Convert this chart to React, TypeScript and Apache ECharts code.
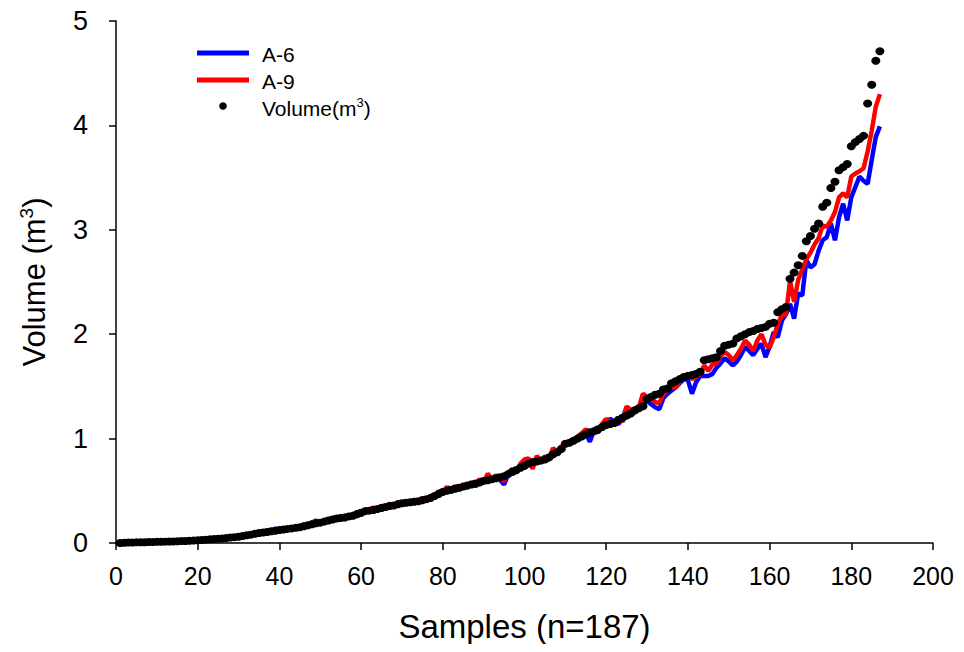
import React, { useEffect, useRef } from "react";
import * as echarts from "echarts";

const volume: number[] = [
  0.000, 0.002, 0.004, 0.005, 0.006, 0.007, 0.008, 0.009, 0.010, 0.011,
  0.012, 0.013, 0.014, 0.015, 0.016, 0.018, 0.019, 0.021, 0.023, 0.026,
  0.029, 0.032, 0.035, 0.038, 0.041, 0.044, 0.048, 0.052, 0.056, 0.060,
  0.067, 0.074, 0.080, 0.088, 0.095, 0.100, 0.106, 0.112, 0.118, 0.125,
  0.130, 0.135, 0.140, 0.145, 0.150, 0.160, 0.170, 0.180, 0.190, 0.195,
  0.205, 0.215, 0.225, 0.235, 0.240, 0.245, 0.255, 0.260, 0.275, 0.290,
  0.305, 0.310, 0.315, 0.325, 0.335, 0.345, 0.355, 0.360, 0.370, 0.380,
  0.385, 0.390, 0.395, 0.400, 0.410, 0.420, 0.430, 0.450, 0.470, 0.490,
  0.500, 0.510, 0.520, 0.530, 0.540, 0.550, 0.560, 0.570, 0.580, 0.595,
  0.600, 0.610, 0.620, 0.630, 0.640, 0.660, 0.680, 0.700, 0.720, 0.740,
  0.760, 0.775, 0.780, 0.790, 0.800, 0.820, 0.850, 0.870, 0.900, 0.950,
  0.960, 0.980, 1.000, 1.020, 1.040, 1.060, 1.070, 1.090, 1.110, 1.130,
  1.140, 1.150, 1.180, 1.200, 1.220, 1.240, 1.270, 1.290, 1.310, 1.380,
  1.400, 1.420, 1.430, 1.470, 1.480, 1.530, 1.550, 1.570, 1.590, 1.600,
  1.610, 1.620, 1.640, 1.750, 1.760, 1.770, 1.780, 1.840, 1.890, 1.900,
  1.910, 1.960, 1.980, 2.000, 2.020, 2.030, 2.050, 2.060, 2.070, 2.100,
  2.110, 2.210, 2.240, 2.260, 2.530, 2.590, 2.660, 2.750, 2.890, 2.940,
  3.010, 3.060, 3.220, 3.260, 3.400, 3.460, 3.570, 3.600, 3.630, 3.800,
  3.840, 3.870, 3.900, 4.210, 4.390, 4.620, 4.710,
];

const a6: number[] = [
  0.000, 0.002, 0.004, 0.005, 0.006, 0.007, 0.008, 0.009, 0.010, 0.011,
  0.012, 0.013, 0.014, 0.015, 0.016, 0.018, 0.019, 0.021, 0.023, 0.026,
  0.030, 0.031, 0.036, 0.037, 0.042, 0.043, 0.049, 0.050, 0.057, 0.060,
  0.075, 0.070, 0.092, 0.084, 0.110, 0.094, 0.120, 0.105, 0.138, 0.118,
  0.140, 0.128, 0.150, 0.138, 0.160, 0.175, 0.165, 0.195, 0.215, 0.185,
  0.220, 0.205, 0.240, 0.228, 0.255, 0.236, 0.272, 0.250, 0.300, 0.278,
  0.325, 0.298, 0.332, 0.315, 0.352, 0.330, 0.375, 0.345, 0.392, 0.365,
  0.400, 0.375, 0.410, 0.388, 0.428, 0.405, 0.450, 0.440, 0.492, 0.470,
  0.525, 0.490, 0.540, 0.512, 0.555, 0.530, 0.578, 0.545, 0.600, 0.580,
  0.630, 0.595, 0.640, 0.605, 0.560, 0.655, 0.700, 0.670, 0.745, 0.715,
  0.785, 0.735, 0.810, 0.770, 0.820, 0.795, 0.890, 0.855, 0.915, 0.940,
  0.960, 0.965, 1.010, 1.005, 1.060, 0.970, 1.080, 1.060, 1.110, 1.150,
  1.190, 1.160, 1.140, 1.200, 1.300, 1.270, 1.285, 1.300, 1.320, 1.360,
  1.330, 1.300, 1.280, 1.390, 1.430, 1.460, 1.490, 1.530, 1.570, 1.560,
  1.430, 1.540, 1.600, 1.600, 1.600, 1.620, 1.680, 1.720, 1.770, 1.740,
  1.700, 1.740, 1.800, 1.880, 1.840, 1.800, 1.860, 1.910, 1.780, 1.880,
  2.020, 1.970, 2.130, 2.190, 2.290, 2.150, 2.390, 2.370, 2.710, 2.640,
  2.670, 2.800, 2.900, 2.930, 3.060, 2.900, 3.120, 3.250, 3.090, 3.310,
  3.410, 3.510, 3.470, 3.440, 3.670, 3.890, 3.990,
];

const a9: number[] = [
  0.000, 0.002, 0.004, 0.005, 0.006, 0.007, 0.008, 0.009, 0.010, 0.011,
  0.012, 0.013, 0.014, 0.015, 0.016, 0.018, 0.019, 0.021, 0.023, 0.026,
  0.029, 0.033, 0.034, 0.039, 0.040, 0.046, 0.047, 0.054, 0.055, 0.062,
  0.062, 0.082, 0.074, 0.098, 0.088, 0.112, 0.100, 0.126, 0.112, 0.142,
  0.122, 0.145, 0.134, 0.156, 0.142, 0.178, 0.162, 0.198, 0.212, 0.180,
  0.200, 0.226, 0.218, 0.250, 0.232, 0.262, 0.245, 0.280, 0.268, 0.272,
  0.300, 0.325, 0.340, 0.310, 0.360, 0.325, 0.380, 0.340, 0.395, 0.360,
  0.405, 0.372, 0.418, 0.385, 0.435, 0.400, 0.455, 0.436, 0.498, 0.465,
  0.540, 0.485, 0.548, 0.508, 0.562, 0.528, 0.585, 0.540, 0.612, 0.575,
  0.665, 0.605, 0.650, 0.615, 0.595, 0.670, 0.710, 0.675, 0.760, 0.800,
  0.810, 0.710, 0.835, 0.785, 0.830, 0.805, 0.910, 0.865, 0.925, 0.945,
  0.965, 0.975, 1.020, 1.050, 1.090, 1.040, 1.090, 1.080, 1.140, 1.190,
  1.150, 1.140, 1.200, 1.160, 1.310, 1.270, 1.290, 1.300, 1.430, 1.400,
  1.390, 1.350, 1.340, 1.430, 1.460, 1.490, 1.490, 1.550, 1.590, 1.620,
  1.570, 1.590, 1.620, 1.700, 1.650, 1.710, 1.720, 1.790, 1.830, 1.800,
  1.750, 1.800, 1.860, 1.940, 1.900, 1.840, 1.940, 2.000, 1.900, 1.870,
  1.970, 2.100, 2.180, 2.190, 2.510, 2.310, 2.520, 2.620, 2.720, 2.780,
  2.860, 2.920, 3.040, 3.030, 3.090, 3.170, 3.310, 3.350, 3.310, 3.510,
  3.540, 3.560, 3.590, 3.750, 3.950, 4.180, 4.300,
];

const seriesNames = ["A-6", "A-9", "Volume(m3)"];
const FONT = "'Liberation Sans', Arial, Helvetica, sans-serif";

export default function App() {
  const ref = useRef<HTMLDivElement>(null);

  useEffect(() => {
    if (!ref.current) return;
    const chart = echarts.init(ref.current, null, { renderer: "svg" });
    const toPairs = (arr: number[]) => arr.map((v, i) => [i + 1, v]);

    const legendX0 = 197;
    const legendX1 = 249;
    const textX = 262;

    chart.setOption({
      animation: false,
      backgroundColor: "#ffffff",
      grid: { left: 116, right: 31, top: 21, bottom: 109, containLabel: false },
      xAxis: {
        type: "value",
        min: 0,
        max: 200,
        interval: 20,
        name: "Samples (n=187)",
        nameLocation: "middle",
        nameGap: 67,
        nameTextStyle: { fontFamily: FONT, fontSize: 33, color: "#000" },
        axisLine: { show: true, onZero: false, lineStyle: { color: "#000", width: 1.5 } },
        axisTick: { show: true, inside: false, length: 7, lineStyle: { color: "#000", width: 1.5 } },
        axisLabel: { fontFamily: FONT, fontSize: 25, color: "#000", margin: 20 },
        splitLine: { show: false },
      },
      yAxis: {
        type: "value",
        min: 0,
        max: 5,
        interval: 1,
        name: "{a|Volume (m}{s|3}{a|)}",
        nameLocation: "middle",
        nameGap: 64,
        nameTextStyle: {
          fontFamily: FONT,
          color: "#000",
          rich: {
            a: { fontFamily: FONT, fontSize: 31, color: "#000" },
            s: { fontFamily: FONT, fontSize: 19, color: "#000", padding: [0, 0, 16, 0] },
          },
        },
        axisLine: { show: true, lineStyle: { color: "#000", width: 1.5 } },
        axisTick: { show: true, inside: false, length: 7, lineStyle: { color: "#000", width: 1.5 } },
        axisLabel: { fontFamily: FONT, fontSize: 27, color: "#000", margin: 28 },
        splitLine: { show: false },
      },
      series: [
        {
          name: seriesNames[0],
          type: "line",
          data: toPairs(a6),
          symbol: "none",
          z: 2,
          lineStyle: { color: "#0000ff", width: 4.5 },
          itemStyle: { color: "#0000ff" },
        },
        {
          name: seriesNames[1],
          type: "line",
          data: toPairs(a9),
          symbol: "none",
          z: 3,
          lineStyle: { color: "#ff0000", width: 4.5 },
          itemStyle: { color: "#ff0000" },
        },
        {
          name: seriesNames[2],
          type: "scatter",
          data: toPairs(volume),
          symbol: "circle",
          symbolSize: [9, 8],
          z: 5,
          itemStyle: { color: "#000000", opacity: 1 },
        },
      ],
      graphic: [
        {
          type: "line",
          shape: { x1: legendX0, y1: 53, x2: legendX1, y2: 53 },
          style: { stroke: "#0000ff", lineWidth: 5 },
        },
        {
          type: "line",
          shape: { x1: legendX0, y1: 80, x2: legendX1, y2: 80 },
          style: { stroke: "#ff0000", lineWidth: 5 },
        },
        {
          type: "circle",
          shape: { cx: 223, cy: 106, r: 3.8 },
          style: { fill: "#000000" },
        },
        {
          type: "text",
          x: textX,
          y: 54,
          style: { text: seriesNames[0], fontFamily: FONT, fontSize: 21, fill: "#000", verticalAlign: "middle" },
        },
        {
          type: "text",
          x: textX,
          y: 81,
          style: { text: seriesNames[1], fontFamily: FONT, fontSize: 21, fill: "#000", verticalAlign: "middle" },
        },
        {
          type: "text",
          x: textX,
          y: 108,
          style: {
            text: "{a|Volume(m}{s|3}{a|)}",
            fontFamily: FONT,
            fontSize: 21,
            fill: "#000",
            verticalAlign: "middle",
            rich: {
              a: { fontFamily: FONT, fontSize: 21, fill: "#000" },
              s: { fontFamily: FONT, fontSize: 13, fill: "#000", padding: [0, 0, 11, 0] },
            },
          },
        },
      ],
    });

    return () => chart.dispose();
  }, []);

  return <div ref={ref} style={{ width: 964, height: 652, margin: -8 }} />;
}
